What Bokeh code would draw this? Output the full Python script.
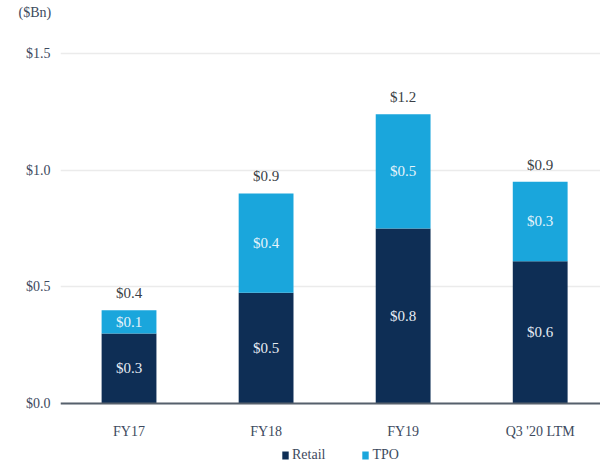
from bokeh.plotting import figure
from bokeh.models import (ColumnDataSource, Range1d, FixedTicker, Legend, LegendItem, Span)
from bokeh.core.properties import value
from bokeh.embed import file_html
from bokeh.resources import INLINE

categories = ["FY17", "FY18", "FY19", "Q3 '20 LTM"]
retail = [0.30, 0.475, 0.75, 0.61]
tpo = [0.10, 0.425, 0.49, 0.34]
retail_labels = ["$0.3", "$0.5", "$0.8", "$0.6"]
tpo_labels = ["$0.1", "$0.4", "$0.5", "$0.3"]
total_labels = ["$0.4", "$0.9", "$1.2", "$0.9"]
y_ticks = [0.0, 0.5, 1.0, 1.5]
y_tick_labels = ["$0.0", "$0.5", "$1.0", "$1.5"]

FONT = "Liberation Serif, serif"
NAVY = "#0e2e55"
CYAN = "#1aa6dc"
TXT = "#3d4a5e"

x = list(range(len(categories)))
total = [r + t for r, t in zip(retail, tpo)]
src = ColumnDataSource(dict(
    x=x, retail=retail, tpo=tpo, total=total,
    rmid=[r / 2 for r in retail],
    tmid=[r + t / 2 for r, t in zip(retail, tpo)],
    rl=retail_labels, tl=tpo_labels, totl=total_labels,
    cat=categories, base=[0.0] * len(categories),
))

p = figure(frame_width=540, frame_height=445, output_backend="svg", toolbar_location=None,
           x_range=Range1d(-0.5, 3.44), y_range=Range1d(-0.27, 1.637),
           x_axis_location=None,
           min_border_left=60, min_border_right=0, min_border_top=0, min_border_bottom=0)
p.title.text = "($Bn)"
p.title.text_font = FONT
p.title.text_font_size = "14px"
p.title.text_font_style = "normal"
p.title.text_color = TXT
p.title.align = "left"
p.title.offset = -42
p.title.standoff = 4

p.outline_line_color = None
p.background_fill_color = "white"

p.xgrid.grid_line_color = None
p.ygrid.grid_line_color = "#ebebeb"
p.ygrid.grid_line_width = 1.5

rs = p.vbar_stack(["retail", "tpo"], x="x", width=0.40, source=src,
                  color=[NAVY, CYAN], line_color=None)

p.add_layout(Span(location=0, dimension="width", line_color="#56606c", line_width=2))

p.text(x="x", y="rmid", text="rl", source=src, text_align="center", text_baseline="middle",
       text_font=value(FONT), text_font_size="15px", text_color="#e6ecf3")
p.text(x="x", y="tmid", text="tl", source=src, text_align="center", text_baseline="middle",
       text_font=value(FONT), text_font_size="15px", text_color="#e6f4fb")
p.text(x="x", y="total", text="totl", source=src, text_align="center", text_baseline="bottom",
       y_offset=-9, text_font=value(FONT), text_font_size="15px", text_color="#3a3f47")
# category labels below the zero line
p.text(x="x", y="base", text="cat", source=src, text_align="center", text_baseline="middle",
       y_offset=28, text_font=value(FONT), text_font_size="14px", text_color=TXT)

p.yaxis.ticker = FixedTicker(ticks=y_ticks)
p.yaxis.major_label_overrides = {t: l for t, l in zip(y_ticks, y_tick_labels)}
p.yaxis.axis_line_color = None
p.yaxis.major_tick_line_color = None
p.yaxis.major_tick_out = 0
p.yaxis.major_tick_in = 0
p.yaxis.minor_tick_line_color = None
p.yaxis.major_label_standoff = 10
p.yaxis.major_label_text_font = FONT
p.yaxis.major_label_text_font_size = "14px"
p.yaxis.major_label_text_color = TXT

legend = Legend(items=[LegendItem(label="Retail", renderers=[rs[0]]),
                       LegendItem(label="TPO", renderers=[rs[1]])],
                orientation="horizontal", location=(221, 3),
                label_text_font=FONT, label_text_font_size="14px", label_text_color=TXT,
                label_height=16, glyph_width=8, glyph_height=10, spacing=36, label_standoff=3,
                padding=0, margin=0, border_line_color=None, background_fill_alpha=0)
p.add_layout(legend)

open("out.html", "w").write(file_html(p, INLINE))
